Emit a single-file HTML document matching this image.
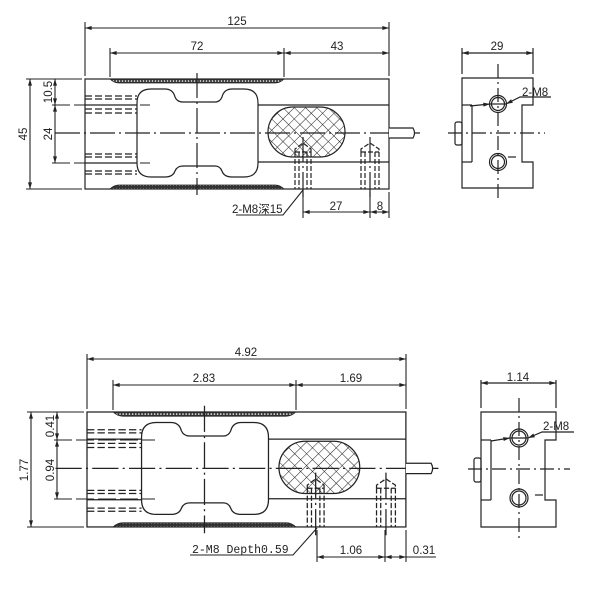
<!DOCTYPE html>
<html><head><meta charset="utf-8"><style>
html,body{margin:0;padding:0;background:#fff;}
svg{display:block;}
text{font-family:"Liberation Sans","Noto Sans CJK SC",sans-serif;font-size:11.5px;fill:#222;}
</style></head><body>
<svg width="600" height="600" viewBox="0 0 600 600" xmlns="http://www.w3.org/2000/svg">
<defs>
<marker id="a" viewBox="0 0 10 6" refX="10" refY="3" markerWidth="8" markerHeight="4" orient="auto-start-reverse" markerUnits="userSpaceOnUse"><path d="M0,0 L10,3 L0,6 z" fill="#222"/></marker>
<pattern id="h" width="8" height="8" patternUnits="userSpaceOnUse" patternTransform="rotate(45)"><path d="M0,0 V8 M0,0 H8" stroke="#222" stroke-width="1"/></pattern>
<pattern id="s" width="3" height="4" patternUnits="userSpaceOnUse"><rect width="3" height="4" fill="#333"/><circle cx="1.5" cy="2" r="0.8" fill="#fff"/></pattern>
<g id="body" fill="none" stroke="#222" stroke-width="1.2">
  <rect x="0" y="0" width="304" height="110"/>
  <path d="M25 0 H199 Q195 4 190 4 H34 Q29 4 25 0 Z" fill="url(#s)" stroke="#222" stroke-width="0.8"/>
  <path d="M25 110 H199 Q195 106 190 106 H34 Q29 106 25 110 Z" fill="url(#s)" stroke="#222" stroke-width="0.8"/>
  <path d="M66 10 L80 10 Q88 10 90 18 Q92 23 98 23 L130 23 Q135 23 137 18 Q139 10 147 10 L159 10 Q173 10 173 24 L173 84 Q173 98 159 98 L147 98 Q139 98 137 92 Q135 87 130 87 L98 87 Q92 87 90 92 Q88 98 80 98 L66 98 Q52 98 52 84 L52 24 Q52 10 66 10 Z" fill="#fff"/>
  <line x1="173" y1="26" x2="304" y2="26"/>
  <line x1="173" y1="83" x2="304" y2="83"/>
  <line x1="0" y1="26" x2="52" y2="26"/>
  <line x1="0" y1="84" x2="52" y2="84"/>
  <g stroke-dasharray="7,3">
    <line x1="0" y1="17" x2="52" y2="17"/><line x1="0" y1="20" x2="52" y2="20"/>
    <line x1="0" y1="30" x2="52" y2="30"/><line x1="0" y1="34" x2="52" y2="34"/>
    <line x1="0" y1="75" x2="52" y2="75"/><line x1="0" y1="78" x2="52" y2="78"/>
    <line x1="0" y1="92" x2="52" y2="92"/><line x1="0" y1="95" x2="52" y2="95"/>
  </g>
  <rect x="183" y="28" width="77" height="50" rx="25" fill="url(#h)"/>
  <g stroke-dasharray="25,4,2,4">
    <line x1="112" y1="-6" x2="112" y2="116"/>
    <line x1="-30" y1="54" x2="335" y2="54"/>
    <line x1="218" y1="58" x2="218" y2="122"/>
    <line x1="285" y1="58" x2="285" y2="122"/>
  </g>
  <g stroke-dasharray="5,2">
    <line x1="210" y1="73" x2="210" y2="110"/><line x1="214" y1="73" x2="214" y2="110"/>
    <line x1="222" y1="73" x2="222" y2="110"/><line x1="226" y1="73" x2="226" y2="110"/>
    <line x1="276" y1="73" x2="276" y2="110"/><line x1="280" y1="73" x2="280" y2="110"/>
    <line x1="290" y1="73" x2="290" y2="110"/><line x1="294" y1="73" x2="294" y2="110"/>
    <path d="M210 73 L210 70 L218 64 L226 70 L226 73 M210 73 H226"/>
    <path d="M276 73 L276 70 L285 64 L294 70 L294 73 M276 73 H294"/>
  </g>
  <path d="M304 49 H328 Q331 54 328 59 H304" fill="#fff"/>
</g>
</defs>

<!-- TOP FRONT VIEW -->
<use href="#body" transform="translate(85,79)"/>
<g stroke="#222" stroke-width="1.1" fill="none">
  <line x1="85" y1="22" x2="85" y2="76"/><line x1="389" y1="22" x2="389" y2="76"/>
  <line x1="110" y1="48" x2="110" y2="77"/><line x1="284" y1="48" x2="284" y2="77"/>
  <line x1="85" y1="28" x2="389" y2="28" marker-start="url(#a)" marker-end="url(#a)"/>
  <line x1="110" y1="53" x2="284" y2="53" marker-start="url(#a)" marker-end="url(#a)"/>
  <line x1="284" y1="53" x2="389" y2="53" marker-start="url(#a)" marker-end="url(#a)"/>
  <line x1="26" y1="79" x2="82" y2="79"/><line x1="26" y1="189" x2="82" y2="189"/>
  <line x1="30" y1="79" x2="30" y2="189" marker-start="url(#a)" marker-end="url(#a)"/>
  <line x1="52" y1="105" x2="150" y2="105" stroke-dasharray="18,4"/>
  <line x1="52" y1="163" x2="150" y2="163" stroke-dasharray="18,4"/>
  <line x1="55" y1="79" x2="55" y2="105" marker-start="url(#a)" marker-end="url(#a)"/>
  <line x1="55" y1="105" x2="55" y2="163" marker-start="url(#a)" marker-end="url(#a)"/>
  <line x1="303" y1="192" x2="303" y2="218"/><line x1="370" y1="192" x2="370" y2="218"/><line x1="389" y1="192" x2="389" y2="218"/>
  <line x1="303" y1="212" x2="370" y2="212" marker-start="url(#a)" marker-end="url(#a)"/>
  <line x1="370" y1="212" x2="389" y2="212" marker-start="url(#a)" marker-end="url(#a)"/>
  <path d="M236 215 H283 L303 190"/>
</g>
<text x="237" y="25" text-anchor="middle">125</text>
<text x="197" y="50" text-anchor="middle">72</text>
<text x="337" y="50" text-anchor="middle">43</text>
<text transform="translate(27,134) rotate(-90)" text-anchor="middle">45</text>
<text transform="translate(52,92) rotate(-90)" text-anchor="middle">10.5</text>
<text transform="translate(52,134) rotate(-90)" text-anchor="middle">24</text>
<text x="232" y="213">2-M8深15</text>
<text x="336" y="210" text-anchor="middle">27</text>
<text x="380" y="210" text-anchor="middle">8</text>

<!-- TOP SIDE VIEW -->
<g stroke="#222" stroke-width="1.2" fill="none">
  <path d="M462 78 H533 V105 H522 V162 H533 V188 H462 Z"/>
  <line x1="472" y1="105" x2="472" y2="162"/>
  <line x1="462" y1="105" x2="472" y2="105"/><line x1="462" y1="162" x2="472" y2="162"/>
  <line x1="508" y1="157" x2="516" y2="157"/>
  <rect x="455" y="122" width="7" height="23" rx="2"/>
  <circle cx="498" cy="104" r="8.5" fill="#fff"/><circle cx="498" cy="104" r="6.5"/>
  <circle cx="498" cy="162" r="8.5" fill="#fff"/><circle cx="498" cy="162" r="6.5"/>
  <line x1="498" y1="64" x2="498" y2="200" stroke-dasharray="14,4,2,4"/>
  <line x1="490" y1="104" x2="506" y2="104"/>
  <line x1="448" y1="133" x2="545" y2="133" stroke-dasharray="14,4,2,4"/>
  <line x1="462" y1="48" x2="462" y2="74"/><line x1="533" y1="48" x2="533" y2="74"/>
  <line x1="462" y1="53" x2="533" y2="53" marker-start="url(#a)" marker-end="url(#a)"/>
  <path d="M551 97 H520 L506 104" marker-end="url(#a)"/>
  <line x1="470" y1="106" x2="490" y2="104" marker-end="url(#a)"/>
</g>
<text x="497" y="50" text-anchor="middle">29</text>
<text x="522" y="96">2-M8</text>

<!-- BOTTOM FRONT VIEW -->
<use href="#body" transform="translate(87,412) scale(1.049,1.045)"/>
<g stroke="#222" stroke-width="1.1" fill="none">
  <line x1="87" y1="354" x2="87" y2="409"/><line x1="406" y1="354" x2="406" y2="409"/>
  <line x1="113" y1="380" x2="113" y2="410"/><line x1="296" y1="380" x2="296" y2="410"/>
  <line x1="87" y1="359" x2="406" y2="359" marker-start="url(#a)" marker-end="url(#a)"/>
  <line x1="113" y1="385" x2="296" y2="385" marker-start="url(#a)" marker-end="url(#a)"/>
  <line x1="296" y1="385" x2="406" y2="385" marker-start="url(#a)" marker-end="url(#a)"/>
  <line x1="27" y1="412" x2="84" y2="412"/><line x1="27" y1="527" x2="84" y2="527"/>
  <line x1="31" y1="412" x2="31" y2="527" marker-start="url(#a)" marker-end="url(#a)"/>
  <line x1="54" y1="440" x2="155" y2="440" stroke-dasharray="18,4"/>
  <line x1="54" y1="499" x2="155" y2="499" stroke-dasharray="18,4"/>
  <line x1="57" y1="412" x2="57" y2="440" marker-start="url(#a)" marker-end="url(#a)"/>
  <line x1="57" y1="440" x2="57" y2="499" marker-start="url(#a)" marker-end="url(#a)"/>
  <line x1="317" y1="530" x2="317" y2="562"/><line x1="385" y1="530" x2="385" y2="562"/><line x1="406" y1="530" x2="406" y2="562"/>
  <line x1="317" y1="557" x2="385" y2="557" marker-start="url(#a)" marker-end="url(#a)"/>
  <line x1="385" y1="557" x2="406" y2="557" marker-start="url(#a)" marker-end="url(#a)"/>
  <path d="M406 557 H436"/>
  <path d="M190 555 H293 L317 528"/>
</g>
<text x="246" y="356" text-anchor="middle">4.92</text>
<text x="204" y="382" text-anchor="middle">2.83</text>
<text x="351" y="382" text-anchor="middle">1.69</text>
<text transform="translate(28,470) rotate(-90)" text-anchor="middle">1.77</text>
<text transform="translate(54,426) rotate(-90)" text-anchor="middle">0.41</text>
<text transform="translate(54,470) rotate(-90)" text-anchor="middle">0.94</text>
<text x="192" y="553" style="font-family:'Liberation Mono',monospace;font-size:11.5px">2-M8 Depth0.59</text>
<text x="351" y="554" text-anchor="middle">1.06</text>
<text x="424" y="554" text-anchor="middle">0.31</text>

<!-- BOTTOM SIDE VIEW -->
<g stroke="#222" stroke-width="1.2" fill="none">
  <path d="M481 412 H556 V440 H545 V500 H556 V527 H481 Z"/>
  <line x1="491" y1="440" x2="491" y2="500"/>
  <line x1="481" y1="440" x2="491" y2="440"/><line x1="481" y1="500" x2="491" y2="500"/>
  <line x1="535" y1="495" x2="543" y2="495"/>
  <rect x="474" y="458" width="7" height="24" rx="2"/>
  <circle cx="519" cy="438" r="9" fill="#fff"/><circle cx="519" cy="438" r="7"/>
  <circle cx="519" cy="498" r="9" fill="#fff"/><circle cx="519" cy="498" r="7"/>
  <line x1="519" y1="398" x2="519" y2="540" stroke-dasharray="14,4,2,4"/>
  <line x1="510" y1="438" x2="528" y2="438"/>
  <line x1="468" y1="469" x2="570" y2="469" stroke-dasharray="14,4,2,4"/>
  <line x1="481" y1="380" x2="481" y2="408"/><line x1="556" y1="380" x2="556" y2="408"/>
  <line x1="481" y1="383" x2="556" y2="383" marker-start="url(#a)" marker-end="url(#a)"/>
  <path d="M574 432 H542 L528 438" marker-end="url(#a)"/>
  <line x1="491" y1="441" x2="510" y2="438" marker-end="url(#a)"/>
</g>
<text x="518" y="381" text-anchor="middle">1.14</text>
<text x="543" y="430">2-M8</text>
</svg>
</body></html>
